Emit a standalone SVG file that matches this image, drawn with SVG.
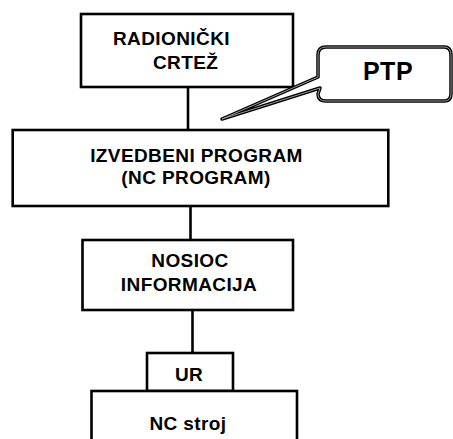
<svg xmlns="http://www.w3.org/2000/svg" width="453" height="439" viewBox="0 0 453 439">
<style>
.box{fill:#fff;stroke:#000;stroke-width:2.6}
.t{font-family:"Liberation Sans",Arial,sans-serif;font-weight:bold;font-size:19px;fill:#000;letter-spacing:0.4px}
.c{text-anchor:middle}
.ln{stroke:#000;stroke-width:2.6;fill:none}
</style>
<rect width="453" height="439" fill="#fff"/>
<g id="connectors">
<line class="ln" x1="188" y1="87" x2="188" y2="130"/>
<line class="ln" x1="190.5" y1="206" x2="190.5" y2="240"/>
<line class="ln" x1="192.5" y1="310" x2="192.5" y2="353"/>
</g>
<g id="radionicki">
<rect class="box" x="81" y="14" width="212" height="73"/>
<text class="t" x="113" y="45">RADIONIČKI</text>
<text class="t" x="153" y="69">CRTEŽ</text>
</g>
<g id="ptp">
<path d="M318,77 L318,55 Q318,47 326,47 L444,47 Q451,47 451,55 L451,94 Q451,101 444,101 L326,101 Q318,101 318,94 L320,88 L222,119 Z" fill="#fff" stroke="#000" stroke-width="3.5" stroke-linejoin="round"/>
<path d="M318,77 L318,55 Q318,47 326,47 L444,47 Q451,47 451,55 L451,94 Q451,101 444,101 L326,101 Q318,101 318,94 L320,88 L222,119 Z" fill="none" stroke="#aaa" stroke-width="0.9" stroke-linejoin="round"/>
<text class="t c" x="388" y="80" style="font-size:25px;letter-spacing:0.5px">PTP</text>
</g>
<g id="izvedbeni">
<rect class="box" x="12.7" y="130" width="375.6" height="76"/>
<text class="t c" x="196.5" y="162">IZVEDBENI PROGRAM</text>
<text class="t c" x="196" y="184">(NC PROGRAM)</text>
</g>
<g id="nosioc">
<rect class="box" x="82.5" y="240" width="210.5" height="70"/>
<text class="t c" x="190" y="266.5">NOSIOC</text>
<text class="t c" x="189" y="291">INFORMACIJA</text>
</g>
<g id="ur">
<rect class="box" x="147" y="353" width="86" height="38"/>
<text class="t c" x="189" y="380.5">UR</text>
</g>
<g id="ncstroj">
<rect class="box" x="91.5" y="391" width="205.5" height="60"/>
<text class="t c" x="188" y="429.5">NC stroj</text>
</g>
</svg>
